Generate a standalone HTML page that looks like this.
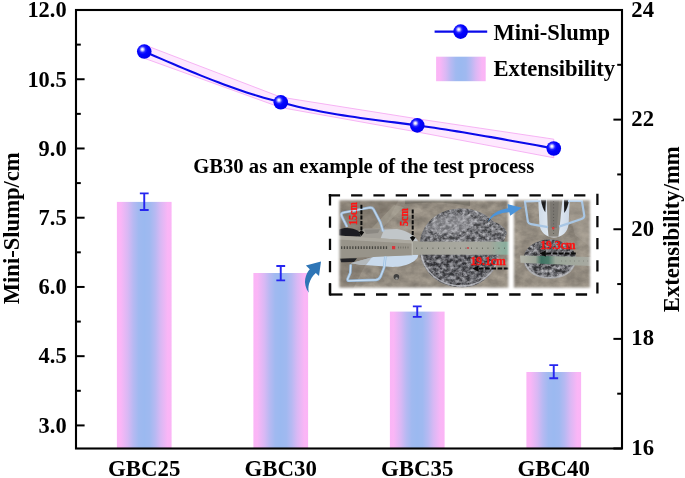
<!DOCTYPE html>
<html lang="en"><head><meta charset="utf-8"><title>Mini-Slump and Extensibility</title>
<style>
html,body{margin:0;padding:0;background:#fff}
body{width:685px;height:478px;overflow:hidden}
svg{display:block}
text{font-family:"Liberation Serif","Times New Roman",serif;font-weight:bold;fill:#000}
</style></head><body>
<svg width="685" height="478" viewBox="0 0 685 478">
<defs>
<linearGradient id="bar" x1="0" y1="0" x2="1" y2="0">
<stop offset="0" stop-color="#fbb5f6"/><stop offset="0.07" stop-color="#fab6f6"/>
<stop offset="0.2" stop-color="#d9b8f4"/><stop offset="0.3" stop-color="#b7b9f2"/><stop offset="0.4" stop-color="#a0b9f0"/>
<stop offset="0.5" stop-color="#9bb9f0"/>
<stop offset="0.6" stop-color="#a0b9f0"/><stop offset="0.7" stop-color="#b7b9f2"/><stop offset="0.8" stop-color="#d9b8f4"/>
<stop offset="0.93" stop-color="#fab6f6"/><stop offset="1" stop-color="#fbb5f6"/>
</linearGradient>
<radialGradient id="ball" cx="0.39" cy="0.37" r="0.6" fx="0.37" fy="0.35">
<stop offset="0" stop-color="#ffffff"/><stop offset="0.1" stop-color="#ececff"/>
<stop offset="0.36" stop-color="#2626ff"/><stop offset="0.55" stop-color="#0303ff"/>
<stop offset="1" stop-color="#0000ee"/>
</radialGradient>
</defs>
<rect width="685" height="478" fill="#fff"/>

<g id="bars">
<rect x="116.90" y="201.90" width="54.70" height="246.80" fill="url(#bar)"/>
<rect x="253.40" y="273.00" width="54.70" height="175.70" fill="url(#bar)"/>
<rect x="389.90" y="311.60" width="54.70" height="137.10" fill="url(#bar)"/>
<rect x="526.40" y="372.00" width="54.70" height="76.70" fill="url(#bar)"/>
</g>
<g id="errbars" stroke="#2626f0" stroke-width="1.9" fill="none">
<path d="M139.85 193.40H148.65M139.85 210.00H148.65M144.25 193.40V210.00"/>
<path d="M276.35 266.00H285.15M276.35 280.40H285.15M280.75 266.00V280.40"/>
<path d="M412.85 306.40H421.65M412.85 316.90H421.65M417.25 306.40V316.90"/>
<path d="M549.35 365.10H558.15M549.35 378.30H558.15M553.75 365.10V378.30"/>
</g>
<polygon points="144.25,44.84 280.75,97.12 417.25,118.79 553.75,139.17 553.75,157.77 417.25,131.99 280.75,107.52 144.25,58.24" fill="#fee8fe" stroke="#f4a8f2" stroke-width="0.85"/>
<path d="M144.2 51.54L149.9 54.01L155.6 56.48L161.3 58.93L167.0 61.38L172.7 63.81L178.4 66.23L184.1 68.62L189.8 70.98L195.4 73.32L201.1 75.62L206.8 77.89L212.5 80.11L218.2 82.30L223.9 84.43L229.6 86.51L235.2 88.54L240.9 90.50L246.6 92.41L252.3 94.25L258.0 96.02L263.7 97.71L269.4 99.33L275.1 100.86L280.8 102.32L280.8 102.32L286.4 103.85L292.1 105.31L297.8 106.68L303.5 107.98L309.2 109.21L314.9 110.37L320.6 111.48L326.2 112.53L331.9 113.52L337.6 114.47L343.3 115.38L349.0 116.24L354.7 117.08L360.4 117.89L366.1 118.67L371.8 119.43L377.4 120.18L383.1 120.92L388.8 121.65L394.5 122.38L400.2 123.12L405.9 123.86L411.6 124.62L417.2 125.39L417.2 125.39L422.9 126.19L428.6 127.01L434.3 127.84L440.0 128.70L445.7 129.58L451.4 130.47L457.1 131.38L462.8 132.30L468.4 133.24L474.1 134.19L479.8 135.16L485.5 136.14L491.2 137.13L496.9 138.13L502.6 139.13L508.2 140.15L513.9 141.18L519.6 142.21L525.3 143.24L531.0 144.28L536.7 145.33L542.4 146.37L548.1 147.42L553.8 148.47" fill="none" stroke="#0a0aea" stroke-width="2.05"/>
<circle cx="144.25" cy="51.54" r="7.3" fill="url(#ball)"/>
<circle cx="280.75" cy="102.32" r="7.3" fill="url(#ball)"/>
<circle cx="417.25" cy="125.39" r="7.3" fill="url(#ball)"/>
<circle cx="553.75" cy="148.47" r="7.3" fill="url(#ball)"/>
<rect x="76.0" y="10.0" width="546.0" height="438.5" fill="none" stroke="#000" stroke-width="2.1"/>
<g stroke="#000" stroke-width="2" fill="none">
<path d="M76.0 10.00h8.6"/>
<path d="M76.0 44.62h4.8"/>
<path d="M76.0 79.24h8.6"/>
<path d="M76.0 113.86h4.8"/>
<path d="M76.0 148.47h8.6"/>
<path d="M76.0 183.09h4.8"/>
<path d="M76.0 217.71h8.6"/>
<path d="M76.0 252.33h4.8"/>
<path d="M76.0 286.95h8.6"/>
<path d="M76.0 321.57h4.8"/>
<path d="M76.0 356.18h8.6"/>
<path d="M76.0 390.80h4.8"/>
<path d="M76.0 425.42h8.6"/>
<path d="M622.0 10.00h-8.6"/>
<path d="M622.0 64.81h-4.8"/>
<path d="M622.0 119.62h-8.6"/>
<path d="M622.0 174.44h-4.8"/>
<path d="M622.0 229.25h-8.6"/>
<path d="M622.0 284.06h-4.8"/>
<path d="M622.0 338.88h-8.6"/>
<path d="M622.0 393.69h-4.8"/>
<path d="M622.0 448.50h-8.6"/>
</g>
<g font-size="22.4px" text-anchor="end">
<text x="66.6" y="17.30">12.0</text>
<text x="66.6" y="86.54">10.5</text>
<text x="66.6" y="155.77">9.0</text>
<text x="66.6" y="225.01">7.5</text>
<text x="66.6" y="294.25">6.0</text>
<text x="66.6" y="363.48">4.5</text>
<text x="66.6" y="432.72">3.0</text>
</g>
<g font-size="22.7px" text-anchor="start">
<text x="631.3" y="16.60">24</text>
<text x="631.3" y="126.22">22</text>
<text x="631.3" y="235.85">20</text>
<text x="631.3" y="345.48">18</text>
<text x="631.3" y="455.10">16</text>
</g>
<g font-size="22.85px" text-anchor="middle">
<text x="144.25" y="476.3">GBC25</text>
<text x="280.75" y="476.3">GBC30</text>
<text x="417.25" y="476.3">GBC35</text>
<text x="553.75" y="476.3">GBC40</text>
</g>
<text font-size="22.6px" text-anchor="middle" transform="translate(18.8 228.3) rotate(-90)">Mini-Slump/cm</text>
<text font-size="22.6px" text-anchor="middle" transform="translate(678.5 229.3) rotate(-90)">Extensibility/mm</text>
<text font-size="20.66px" x="193.2" y="172.8">GB30 as an example of the test process</text>
<path d="M434.6 31.6H487.2" stroke="#0a0aea" stroke-width="2.05"/>
<circle cx="460.6" cy="31.6" r="7.3" fill="url(#ball)"/>
<text font-size="22.6px" x="493.4" y="39.6">Mini-Slump</text>
<rect x="436.1" y="56.7" width="49.6" height="24.5" fill="url(#bar)"/>
<text font-size="22.6px" x="493.4" y="75.6">Extensibility</text>
<defs>
<filter id="fPaste" x="0" y="0" width="1" height="1" color-interpolation-filters="sRGB">
<feTurbulence type="fractalNoise" baseFrequency="0.24 0.3" numOctaves="4" seed="4" result="n"/>
<feColorMatrix in="n" type="matrix" values="2.0 0 0 0 -0.58  2.0 0 0 0 -0.58  2.02 0 0 0 -0.57  0 0 0 0 1" result="g"/>
<feComposite in="g" in2="SourceGraphic" operator="in"/>
</filter>
<filter id="fFloor" x="0" y="0" width="1" height="1" color-interpolation-filters="sRGB">
<feTurbulence type="fractalNoise" baseFrequency="0.09 0.12" numOctaves="4" seed="11" result="n"/>
<feColorMatrix in="n" type="matrix" values="0.24 0 0 0 0.46  0.23 0 0 0 0.435  0.21 0 0 0 0.40  0 0 0 0 1" result="g"/>
<feComposite in="g" in2="SourceGraphic" operator="in"/>
</filter>
<filter id="fSoft" x="-0.05" y="-0.05" width="1.1" height="1.1"><feGaussianBlur stdDeviation="0.9"/></filter>
<filter id="fBlur" x="-0.1" y="-0.1" width="1.2" height="1.2"><feGaussianBlur stdDeviation="0.55"/></filter>
<mask id="mL" maskUnits="userSpaceOnUse" x="330" y="190" width="190" height="110"><rect x="339.4" y="200.3" width="168.9" height="87.3" fill="#fff" filter="url(#fSoft)"/></mask>
<mask id="mR" maskUnits="userSpaceOnUse" x="505" y="190" width="95" height="110"><rect x="513.9" y="200.3" width="76" height="87.3" fill="#fff" filter="url(#fSoft)"/></mask>
<linearGradient id="gRulerL" x1="0" y1="0" x2="1" y2="0">
<stop offset="0" stop-color="#a09f95"/><stop offset="0.5" stop-color="#a8a89f"/>
<stop offset="0.8" stop-color="#a3a69b"/><stop offset="0.92" stop-color="#8fae9e"/><stop offset="1" stop-color="#86ab9a"/>
</linearGradient>
<linearGradient id="gRulerR" x1="0" y1="0" x2="1" y2="0">
<stop offset="0" stop-color="#b4b5ab"/><stop offset="0.22" stop-color="#9aa397"/><stop offset="0.3" stop-color="#3f7263"/>
<stop offset="0.4" stop-color="#4d7c6c"/><stop offset="0.5" stop-color="#9aa79a"/><stop offset="1" stop-color="#a9a9a1"/>
</linearGradient>
<linearGradient id="gCone" x1="0" y1="0" x2="1" y2="0">
<stop offset="0" stop-color="#cfdbe8"/><stop offset="0.5" stop-color="#e6edf4"/><stop offset="1" stop-color="#ccd8e6"/>
</linearGradient>
<radialGradient id="gRim" cx="0.5" cy="0.5" r="0.5"><stop offset="0.8" stop-color="#000" stop-opacity="0"/><stop offset="1" stop-color="#000" stop-opacity="0.35"/></radialGradient>
<linearGradient id="gPaste" x1="0" y1="0" x2="0" y2="1"><stop offset="0" stop-color="#85868a"/><stop offset="0.45" stop-color="#77787c"/><stop offset="0.6" stop-color="#5a5b60"/><stop offset="1" stop-color="#64656a"/></linearGradient>
</defs>
<g id="inset">
<!-- left photo -->
<g mask="url(#mL)">
<g filter="url(#fBlur)">
<rect x="336" y="197" width="176" height="94" fill="#8d867a" filter="url(#fFloor)"/>
<path d="M336 197H400L352 291H336Z" fill="#6f685c" opacity="0.35"/>
<path d="M394 205L372 228L380 230L404 207Z" fill="#b0aa9e" opacity="0.45"/>
<path d="M405 197H470V206Q440 200 405 204Z" fill="#5e5a52" opacity="0.45"/>
<!-- paste -->
<path d="M419.5 247C420 224 438 208.6 461 208.6C478 208.6 488 216 494 222C500 224 506 228 507 233C504 240 501 250 499 256C496 272 482 287.5 462 287.5C438 287.5 419.5 270 419.5 247Z" fill="url(#gPaste)"/>
<path d="M419.5 247C420 224 438 208.6 461 208.6C478 208.6 488 216 494 222C500 224 506 228 507 233C504 240 501 250 499 256C496 272 482 287.5 462 287.5C438 287.5 419.5 270 419.5 247Z" fill="#fff" filter="url(#fPaste)" opacity="0.45"/>
<ellipse id="hl1" cx="452" cy="224" rx="24" ry="9" fill="#b4b5b9" opacity="0.4" transform="rotate(-8 452 224)"/>
<path d="M421 252C423 272 440 286 462 286C480 286 494 274 498 258" fill="none" stroke="#c9cbd0" stroke-width="1.6" opacity="0.7"/>
<!-- cone lying -->
<path d="M357 231.4L364 228.6L396 228.4C407 230 415.6 235.6 418.6 241.4V243H357Z" fill="#a19e97"/>
<path d="M384 229.4L397 229C407 230.6 415 236 418 241.2L380 240Z" fill="#c7ccd1" opacity="0.85"/>
<path d="M364 229.6L380 229.2L378 233L366 234Z" fill="#7d7a74" opacity="0.6"/>
<path d="M350.7 263.2L376.2 256.2L418.4 254.6C417.6 262 405 267 393 267L360.4 264.8Z" fill="#c9daec"/>
<path d="M350.7 263.2L372 257.2L366 265L360.4 264.8Z" fill="#a9aaa6" opacity="0.7"/>
<path d="M339 229.6C343 227.2 353 227.2 358.5 231L361 236.5H339Z" fill="#1d1f22"/>
<path d="M340 258.6L357 258.2L354 262L341 262.2Z" fill="#202326"/>
<!-- ruler -->
<path d="M338 235.4L412.2 240.4V255.3L338 258.6Z" fill="#98948a"/>
<path d="M338 235.4L412.2 240.4V243.4L338 239.6Z" fill="#b0ada4" opacity="0.8"/>
<rect x="412.2" y="241.6" width="97" height="13.1" fill="url(#gRulerL)"/>
<path d="M412.2 240.6V255.2" stroke="#c8c8c0" stroke-width="0.8"/>
<path d="M341 247.6H388" stroke="#34342f" stroke-width="2.6" stroke-dasharray="1.3 1.5" opacity="0.8"/>
<path d="M398 247.6H410" stroke="#4a4a44" stroke-width="2" stroke-dasharray="0.8 1.6" opacity="0.6"/>
<rect x="392" y="246" width="3.2" height="3.2" fill="#d8343a"/>
<path d="M416 248.2H506" stroke="#55584f" stroke-width="1.6" stroke-dasharray="0.9 4.6" opacity="0.75"/>
<circle cx="468" cy="248" r="1.1" fill="#c8464a"/>
<!-- wires -->
<path d="M347.1 227C345 222 342 218 341.4 214.8C341.3 213 342.4 212.8 343.8 212.5L368.6 207.8C371.6 207.3 372.8 208 373.6 209.4L380.4 222.3L383.2 231.5" fill="none" stroke="#9dbcdc" stroke-width="2.6" stroke-linejoin="round"/>
<path d="M347.1 227C345 222 342 218 341.4 214.8C341.3 213 342.4 212.8 343.8 212.5L368.6 207.8C371.6 207.3 372.8 208 373.6 209.4L380.4 222.3L383.2 231.5" fill="none" stroke="#cfe0f0" stroke-width="0.9" stroke-linejoin="round"/>
<path d="M350.7 264.5L350.3 272.8L347.6 279C347.4 280.4 347.8 280.8 349 280.8L376.2 279.9C378.4 279.6 379.8 278 380.6 276.4L384.1 267.6L385.4 256.6" fill="none" stroke="#9dc0e2" stroke-width="2.6" stroke-linejoin="round"/>
<path d="M350.7 264.5L350.3 272.8L347.6 279C347.4 280.4 347.8 280.8 349 280.8L376.2 279.9C378.4 279.6 379.8 278 380.6 276.4L384.1 267.6L385.4 256.6" fill="none" stroke="#cfe2f4" stroke-width="0.9" stroke-linejoin="round"/>
<circle cx="396.4" cy="276.8" r="2.8" fill="#3f3f3f"/><circle cx="396.6" cy="278.4" r="1.2" fill="#9a9a98"/>
</g>
<!-- annotations left -->
<text transform="translate(357 225.1) rotate(-90) scale(0.8 1)" font-size="12.6px" style="fill:#ff1212;stroke:#ff1212;stroke-width:0.3px">15cm</text>
<text transform="translate(408.4 226) rotate(-90) scale(0.8 1)" font-size="12.6px" style="fill:#ff1212;stroke:#ff1212;stroke-width:0.3px">5cm</text>
<path d="M361.4 204.8V232" stroke="#0a0a0a" stroke-width="2" stroke-dasharray="4 1.4"/>
<path d="M361.4 236L358.6 232.2L361.4 230.6L364.2 232.2Z" fill="#0a0a0a"/>
<path d="M412.7 209.4V237.5" stroke="#0a0a0a" stroke-width="2" stroke-dasharray="4 1.4"/>
<path d="M412.7 241.4L409.9 237.6L412.7 236L415.5 237.6Z" fill="#0a0a0a"/>
<text transform="translate(470.4 265.1) scale(0.96 1)" font-size="12.2px" style="fill:#ff1212;stroke:#ff1212;stroke-width:0.3px">19.1cm</text>
<path d="M508.4 268.6H478" stroke="#0a0a0a" stroke-width="2" stroke-dasharray="4.6 1.6"/>
<path d="M472.4 268.6L478.6 265.4V271.8Z" fill="#0a0a0a"/>
</g>
<!-- right photo -->
<g mask="url(#mR)">
<g filter="url(#fBlur)">
<rect x="511" y="197" width="83" height="94" fill="#8f887c" filter="url(#fFloor)"/>
<path d="M565 197H594V250L575 235Z" fill="#b3ada1" opacity="0.3"/>
<!-- paste -->
<ellipse cx="549.7" cy="259" rx="26.2" ry="19.4" fill="#6c6d71"/>
<ellipse cx="549.7" cy="259" rx="26.2" ry="19.4" fill="#fff" filter="url(#fPaste)" opacity="0.5"/>
<path d="M525 263C529 274 539 277.6 550 277.6C562 277.6 572 273 575 262" fill="none" stroke="#c4c6ca" stroke-width="1.8" opacity="0.75"/>
<!-- cone upright -->
<path d="M538.2 199H569.8L568.6 224C568 232 562 237.4 554 237.4C546 237.4 540 232 539.4 224Z" fill="url(#gCone)"/>
<path d="M540.9 199.5H546L545.3 212.2C543.4 209.6 541.6 205 540.9 199.5Z" fill="#1b1c1f"/>
<path d="M569 199.5H564L564.2 213C566.6 210 568.5 205 569 199.5Z" fill="#1b1c1f"/>
<path d="M546.6 198H562.6L559.4 229L558.4 236.8H548.6L547.8 229Z" fill="#8a867e"/>
<path d="M550 200H559L557 228H550.6Z" fill="#6e6b66" opacity="0.55"/>
<path d="M553.6 201V236" stroke="#4a4845" stroke-width="1" stroke-dasharray="1 2.2" opacity="0.7"/>
<rect x="552" y="227" width="2.4" height="2.4" fill="#d63a3e"/>
<!-- wires -->
<path d="M540.2 200.9L524.9 201.3L527.9 221.8C528.4 223.6 529.6 224 531 224.2L548 227.2" fill="none" stroke="#a8c6e4" stroke-width="2.2" stroke-linejoin="round"/>
<path d="M568 200.8L581.9 200.9L584.3 215.6C584.4 217.8 583 218.6 580.7 219.3L559 226.6" fill="none" stroke="#a8c6e4" stroke-width="2.2" stroke-linejoin="round"/>
<!-- ruler -->
<path d="M520 255.6L591 257.1V266L520.6 262.7Z" fill="url(#gRulerR)"/>
<path d="M561 261H590" stroke="#6c6f68" stroke-width="1.2" stroke-dasharray="0.8 3.6" opacity="0.7"/>
</g>
<text transform="translate(540.2 248.9) scale(0.96 1)" font-size="12.2px" style="fill:#ff1212;stroke:#ff1212;stroke-width:0.3px">19.3cm</text>
<path d="M575.8 253.5H545" stroke="#0a0a0a" stroke-width="2" stroke-dasharray="4.6 1.6"/>
<path d="M539.6 253.5L545.8 250.3V256.7Z" fill="#0a0a0a"/>
</g>
<!-- blue arrows -->
<path d="M488.1 221.8C490 215 498 209.5 508 208.3L507.6 204.1L521.9 207.8L510.2 215.7L509.3 212.2C500 212.5 492 216 488.1 221.8Z" fill="#4b94da"/>
<path d="M308.9 292.7C305.6 288.5 304.4 283 305.2 278.9C306 274.5 307.8 271.5 309.8 269.2L305.9 265.5L321 261.6L319 275.9L315.8 272.9C312.5 275.5 310.4 279.5 309 284C308.2 287 308.2 290 308.9 292.7Z" fill="#2e75b6"/>
<!-- dashed box -->
<g stroke="#0a0a0a" stroke-width="2.3" fill="none">
<path d="M328.8 195.3H596" stroke-dasharray="11.3 11"/>
<path d="M597.4 193.8V295" stroke-dasharray="11.2 10.95"/>
<path d="M330 194.1V296" stroke-dasharray="11.3 11"/>
<path d="M330 294.5H342.5"/>
<path d="M353.8 294.5H596" stroke-dasharray="11.3 10.9"/>
<path d="M330 283.4V295.6"/>
</g>
</g>

</svg></body></html>
